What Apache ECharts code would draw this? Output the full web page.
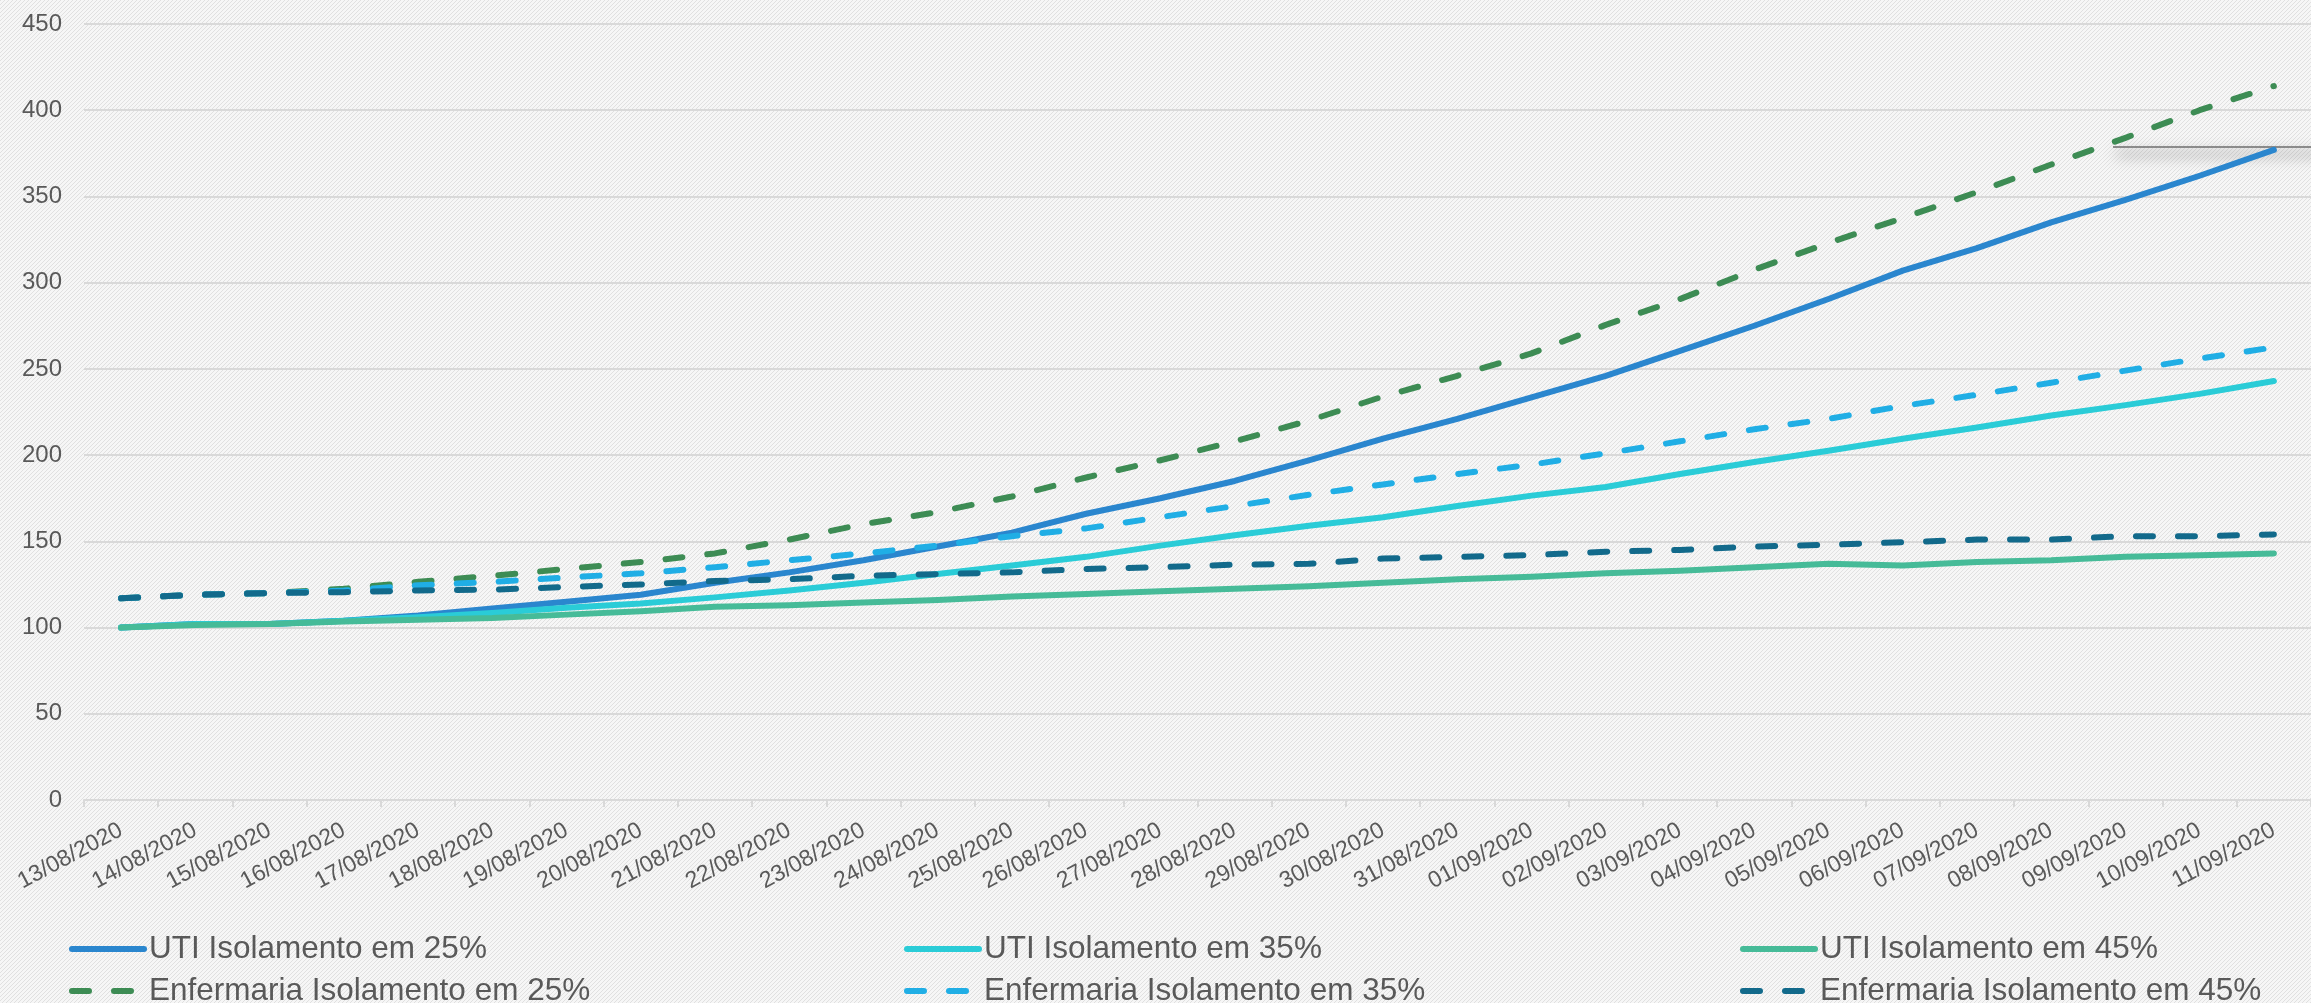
<!DOCTYPE html>
<html>
<head>
<meta charset="utf-8">
<script src="https://cdn.jsdelivr.net/npm/echarts@6/dist/echarts.min.js"></script>
<style>
html,body{margin:0;padding:0;background:#ffffff;}
#chart{width:2311px;height:1003px;}
</style>
</head>
<body>
<div id="chart"></div>
<script>
// ---- data ----
const categories = [
  '13/08/2020','14/08/2020','15/08/2020','16/08/2020','17/08/2020','18/08/2020','19/08/2020',
  '20/08/2020','21/08/2020','22/08/2020','23/08/2020','24/08/2020','25/08/2020','26/08/2020',
  '27/08/2020','28/08/2020','29/08/2020','30/08/2020','31/08/2020','01/09/2020','02/09/2020',
  '03/09/2020','04/09/2020','05/09/2020','06/09/2020','07/09/2020','08/09/2020','09/09/2020',
  '10/09/2020','11/09/2020'
];
const seriesNames = [
  'UTI Isolamento em 25%','UTI Isolamento em 35%','UTI Isolamento em 45%',
  'Enfermaria Isolamento em 25%','Enfermaria Isolamento em 35%','Enfermaria Isolamento em 45%'
];
const uti25 = [100,102,102,104,107,111,115,119,126,132,139,147,155,166,175,185,197,209.5,221,233.5,246,260.5,275,290.5,307,320,335,348,362,377];
const uti35 = [100,102,102,104,106,108.5,111.5,114,117.5,121.5,126,131,136,141,147.5,153.5,159,164,170.5,176.5,181.5,189,196,202.5,209.5,216,223,229,235.5,243];
const uti45 = [100,101.5,102,103.5,104.5,105.5,107.5,109.5,112,113,114.5,116,118,119.5,121,122.5,124,126,128,129.5,131.5,133,135,137,136,138,139,141,142,143];
const enf25 = [117,119,120,122.5,126.5,130,134,138,143,151,160,167,176,187,197,208,220,234,246,259,275.5,290.5,307.5,323,337.5,352.5,368.5,384,400,414];
const enf35 = [117,119,120,121.5,124.5,126.5,129,131.5,135,139,143,147.5,153,157.5,164,170.5,177,183,189,194.5,201,208,215,221,228.5,235,242,249,256,262.5];
const enf45 = [117,119,120,120.5,121.5,122,123.5,125,127,128,130,131,132,134,135,136.5,137,140,141,142,144,145,147,148,149.5,151,151,153,153,154];
const yMin = 0, yMax = 450, yStep = 50;

// ---- styles ----
const colors = ['#2A86CE','#2ACCD7','#46BB98','#3D8C54','#20AEE5','#126A8B'];
const values = [uti25, uti35, uti45, enf25, enf35, enf45];
const dashed = [false,false,false,true,true,true];
const textColor = '#595959';
const fontFamily = '"Liberation Sans", Arial, Helvetica, sans-serif';

// background hatch pattern
const tile = document.createElement('canvas');
tile.width = 4; tile.height = 4;
const tctx = tile.getContext('2d');
const img = tctx.createImageData(4,4);
for (let y=0;y<4;y++) for (let x=0;x<4;x++) {
  const k = (y*4+x)*4;
  const stripe = ((x+y)%4)===0;
  const v = stripe ? 224 : 246;
  img.data[k]=v; img.data[k+1]=v; img.data[k+2]=v; img.data[k+3]=255;
}
tctx.putImageData(img,0,0);

const chart = echarts.init(document.getElementById('chart'), null, {renderer:'canvas'});

const series = values.map((d,i)=>({
  name: seriesNames[i],
  type: 'line',
  data: d,
  symbol: 'none',
  smooth: false,
  z: 2 + i,
  lineStyle: {
    color: colors[i],
    width: 6,
    type: dashed[i] ? [17,25] : 'solid',
    cap: 'round',
    join: 'round'
  },
  itemStyle: {color: colors[i]},
  emphasis: {disabled: true}
}));

const legendLefts = [69, 904, 1740];
const legends = [0,1,2].map(c=>({
  orient: 'vertical',
  left: legendLefts[c],
  top: 933,
  height: 90,
  data: [seriesNames[c], seriesNames[c+3]],
  itemWidth: 72,
  itemHeight: 8,
  itemGap: 10,
  padding: 0,
  itemStyle: {opacity: 0},
  lineStyle: {width: 6, cap: 'round'},
  textStyle: {fontSize: 31.5, color: textColor, fontFamily: fontFamily, lineHeight: 30}
}));

chart.setOption({
  animation: false,
  backgroundColor: {image: tile, repeat: 'repeat'},
  grid: {left: 84, right: -11, top: 24, bottom: 203, containLabel: false},
  xAxis: {
    type: 'category',
    data: categories,
    boundaryGap: true,
    axisLine: {show: true, lineStyle: {color: '#D9D9D9', width: 2}},
    axisTick: {show: true, length: 7, lineStyle: {color: '#D9D9D9', width: 2}},
    axisLabel: {rotate: 28, fontSize: 23, color: textColor, fontFamily: fontFamily, margin: 29, interval: 0},
    splitLine: {show: false}
  },
  yAxis: {
    type: 'value',
    min: yMin, max: yMax, interval: yStep,
    axisLine: {show: false},
    axisTick: {show: false},
    axisLabel: {fontSize: 24, color: textColor, fontFamily: fontFamily, margin: 22},
    splitLine: {show: true, lineStyle: {color: '#D9D9D9', width: 2}}
  },
  legend: legends,
  graphic: [{
    type: 'line',
    z: 1,
    shape: {x1: 2113, y1: 147, x2: 2340, y2: 147},
    style: {stroke: '#8a8a8a', lineWidth: 2, shadowBlur: 14, shadowOffsetX: 3, shadowOffsetY: 7, shadowColor: 'rgba(0,0,0,0.75)'}
  }],
  series: series
});
</script>
</body>
</html>
